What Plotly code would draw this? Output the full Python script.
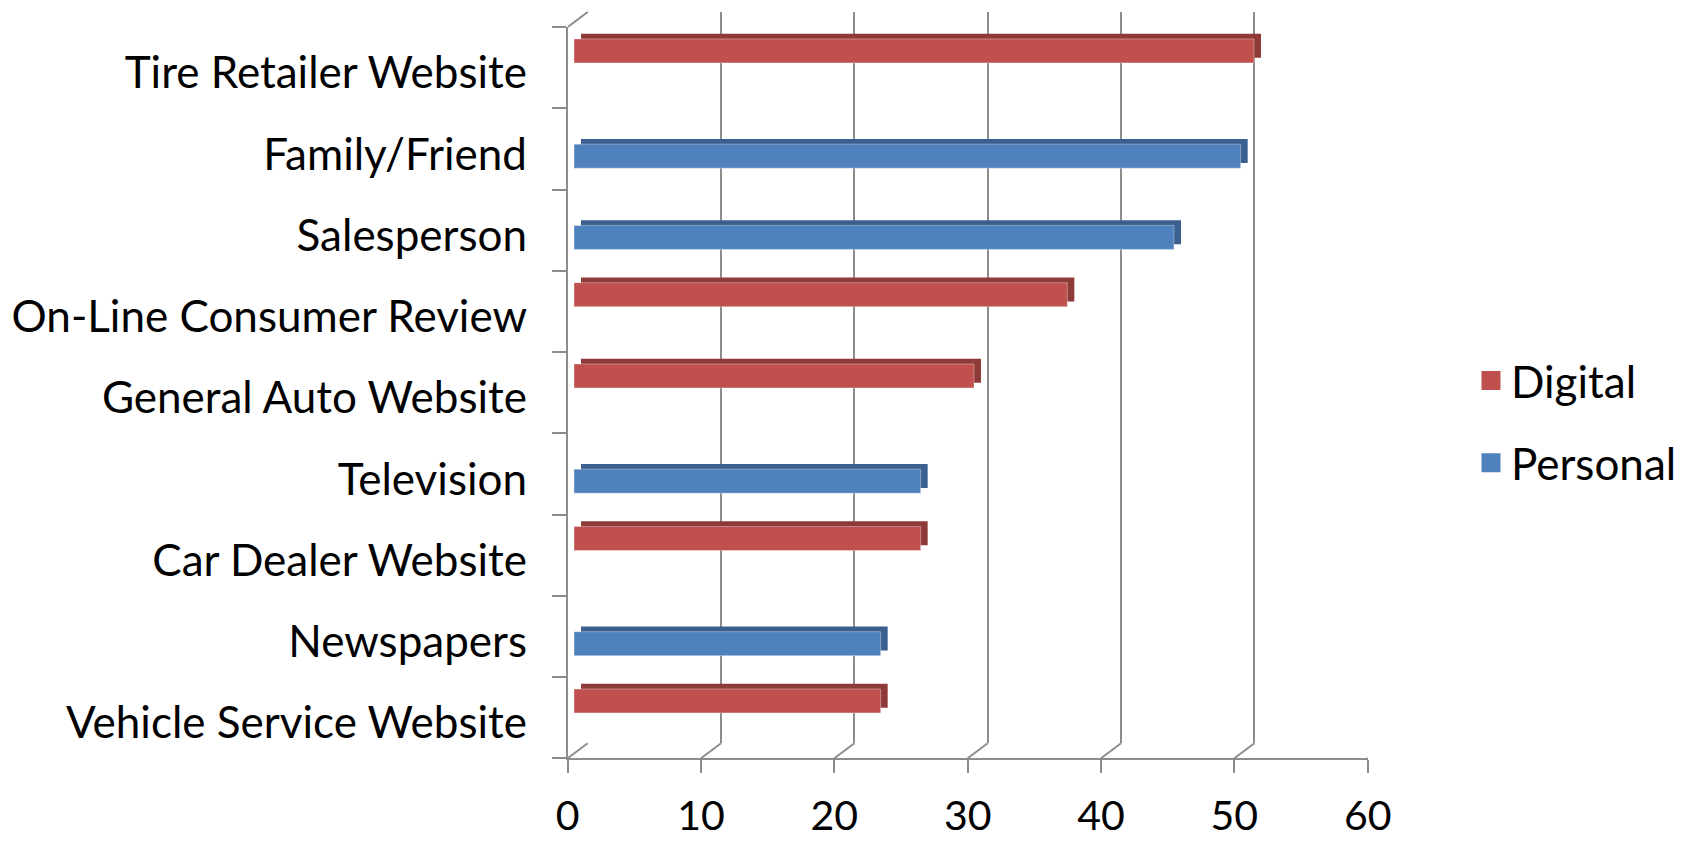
import plotly.graph_objects as go

# ---------------- data ----------------
categories = [
    "Tire Retailer Website",
    "Family/Friend",
    "Salesperson",
    "On-Line Consumer Review",
    "General Auto Website",
    "Television",
    "Car Dealer Website",
    "Newspapers",
    "Vehicle Service Website",
]
digital = [51, None, None, 37, 30, None, 26, None, 23]
personal = [None, 50, 45, None, None, 26, None, 23, None]
x_ticks = [0, 10, 20, 30, 40, 50, 60]
series_names = ["Digital", "Personal"]

# ---------------- style ----------------
W, H = 1682, 842
FONT = "Lato"
FS = 44
FS_X = 41
GRID = "#8C8C8C"
front_colors = ["#C0504D", "#4F81BD"]
depth_colors = ["#8E3A38", "#3B5F8E"]


def fx(p):
    return p / W


def fy(p):
    return (H - p) / H


# geometry (pixels)
FRONT_X0, FRONT_X1 = 567.7, 1367.7      # front plane: 0 .. 60
FRONT_Y0, FRONT_Y1 = 27.0, 758.3        # front wall top / floor
DEP_X, DEP_Y = 20.0, 15.0               # depth of 3-D box
BAR_DX = 6.3                            # bar front face position inside box
BAR_DY = BAR_DX * DEP_Y / DEP_X
FACE_DX, FACE_DY = 7.0, 5.2             # bar extrusion

fig = go.Figure()

series_vals = [digital, personal]

# legend entries (also make the back-plane grid subplot exist)
for i, (name, col) in enumerate(zip(series_names, front_colors)):
    fig.add_trace(go.Scatter(
        x=[None], y=[None], mode="markers", name=name,
        marker=dict(symbol="square", size=16, color=col, line=dict(width=3, color=col)),
        xaxis="x", yaxis="y", legendgroup=f"g{i}", showlegend=True, hoverinfo="skip",
    ))

# depth (extrusion) faces - behind
for name, vals, col in zip(series_names, series_vals, depth_colors):
    fig.add_trace(go.Bar(
        y=categories, x=vals, orientation="h", name=name,
        marker=dict(color=col, line=dict(width=0)),
        xaxis="x2", yaxis="y2", showlegend=False, hoverinfo="skip",
    ))

# front faces
for name, vals, col in zip(series_names, series_vals, front_colors):
    fig.add_trace(go.Bar(
        y=categories, x=vals, orientation="h", name=name,
        marker=dict(color=col, line=dict(width=1, color="rgba(255,255,255,0.35)")),
        xaxis="x3", yaxis="y3", showlegend=False,
    ))

bar_x0 = FRONT_X0 + BAR_DX
bar_y0 = FRONT_Y0 - BAR_DY
bar_y1 = FRONT_Y1 - BAR_DY

fig.update_layout(
    width=W, height=H,
    margin=dict(l=0, r=0, t=0, b=0, pad=0, autoexpand=False),
    paper_bgcolor="white", plot_bgcolor="rgba(0,0,0,0)",
    font=dict(family=FONT, size=FS, color="black"),
    barmode="group", bargap=0.41, bargroupgap=0,
    showlegend=True,
    legend=dict(x=1.0, y=fy(345.5), xanchor="right", yanchor="top",
                font=dict(family=FONT, size=FS), tracegroupgap=22,
                bgcolor="rgba(0,0,0,0)", itemwidth=30),
    # back plane grid
    xaxis=dict(domain=[fx(FRONT_X0 + DEP_X), fx(FRONT_X1 + DEP_X)], range=[0, 60],
               tickvals=x_ticks, showgrid=True, gridcolor=GRID, gridwidth=2,
               zeroline=False, showticklabels=False, ticks="", showline=False,
               anchor="y", fixedrange=True, automargin=False),
    yaxis=dict(domain=[fy(FRONT_Y1 - DEP_Y), fy(FRONT_Y0 - DEP_Y)], range=[0, 1],
               showgrid=False, zeroline=False, showticklabels=False, ticks="",
               showline=False, anchor="x", fixedrange=True, automargin=False),
    # extrusion faces
    xaxis2=dict(domain=[fx(bar_x0 + FACE_DX), fx(bar_x0 + FACE_DX + 800)], range=[0, 60],
                visible=False, anchor="y2", fixedrange=True, automargin=False),
    yaxis2=dict(domain=[fy(bar_y1 - FACE_DY), fy(bar_y0 - FACE_DY)], type="category",
                range=[len(categories) - 0.5, -0.5], visible=False, anchor="x2",
                fixedrange=True, automargin=False),
    # front faces + category labels
    xaxis3=dict(domain=[fx(bar_x0), fx(bar_x0 + 800)], range=[0, 60],
                visible=False, anchor="y3", fixedrange=True, automargin=False),
    yaxis3=dict(domain=[fy(bar_y1), fy(bar_y0)], type="category",
                range=[len(categories) - 0.5, -0.5], anchor="x3",
                showgrid=False, zeroline=False, showline=False, ticks="",
                showticklabels=True, ticklabelstandoff=46, ticklabelshift=-10,
                tickfont=dict(family=FONT, size=FS, color="black"), fixedrange=True,
                automargin=False),
    # front floor axis + wall
    xaxis4=dict(domain=[fx(FRONT_X0), fx(FRONT_X1)], range=[0, 60], tickvals=x_ticks,
                showgrid=False, zeroline=False, showline=True, linecolor=GRID, linewidth=2,
                ticks="outside", ticklen=13, tickwidth=2, tickcolor=GRID,
                ticklabelstandoff=7,
                tickfont=dict(family=FONT, size=FS_X, color="black"),
                anchor="y4", fixedrange=True, automargin=False),
    yaxis4=dict(domain=[fy(FRONT_Y1), fy(FRONT_Y0)], range=[len(categories), 0],
                tickvals=list(range(len(categories) + 1)),
                showgrid=False, zeroline=False, showline=True, linecolor=GRID, linewidth=2,
                ticks="outside", ticklen=14, tickwidth=2, tickcolor=GRID,
                showticklabels=False, anchor="x4", fixedrange=True, automargin=False),
)

# 3-D box edges: floor diagonals and top-left corner
shapes = []
for v in x_ticks:
    shapes.append(dict(type="line", xref="x4", yref="paper",
                       xsizemode="pixel", xanchor=v, x0=0, x1=DEP_X,
                       ysizemode="pixel", yanchor=fy(FRONT_Y1), y0=0, y1=DEP_Y,
                       line=dict(color=GRID, width=2), layer="below"))
shapes.append(dict(type="line", xref="x4", yref="paper",
                   xsizemode="pixel", xanchor=x_ticks[0], x0=0, x1=DEP_X,
                   ysizemode="pixel", yanchor=fy(FRONT_Y0), y0=0, y1=DEP_Y,
                   line=dict(color=GRID, width=2), layer="below"))
fig.update_layout(shapes=shapes)

# remove the default page margin so the figure fills the window exactly
fig.write_html(
    "out.html",
    config={"displayModeBar": False},
    post_script="document.body.style.margin='0';document.body.style.overflow='hidden';",
)
